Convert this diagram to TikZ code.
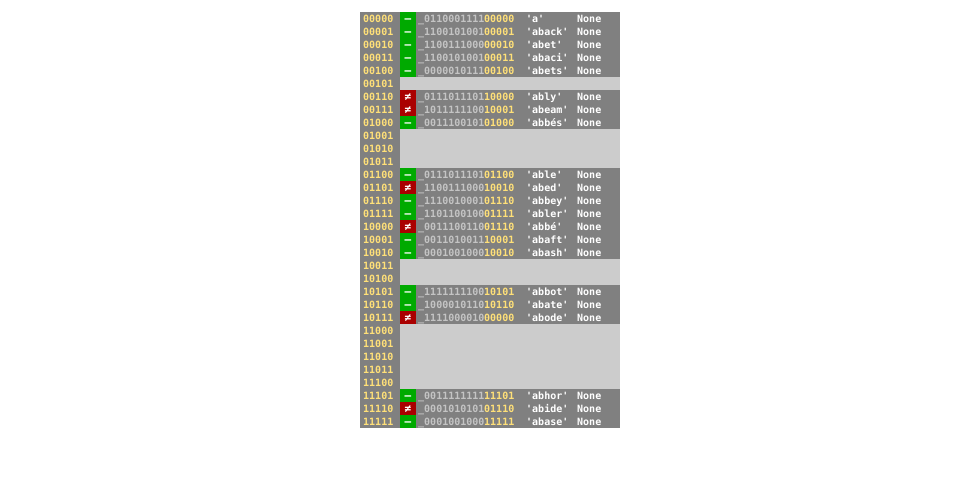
\documentclass[tikz,border=0pt]{standalone}
\usepackage{fontspec}
\newfontfamily\monob{DejaVu Sans Mono}
\definecolor{bgdark}{HTML}{808080}
\definecolor{bglight}{HTML}{CCCCCC}
\definecolor{okgreen}{HTML}{00AA00}
\definecolor{badred}{HTML}{AA0000}
\definecolor{gold}{HTML}{FFE078}
\definecolor{hashgray}{HTML}{C4C4C4}
\newcommand{\qq}{\char"27\relax}
\tikzset{
  txt/.style={anchor=base west, inner sep=0pt, font=\monob\bfseries\fontsize{10}{12}\selectfont},
  idxtxt/.style={txt, text=gold},
  hashtxt/.style={txt, text=hashgray},
  lowtxt/.style={txt, text=gold},
  wordtxt/.style={txt, text=white},
  symtxt/.style={anchor=base, inner sep=0pt, text=white, font=\monob\bfseries\fontsize{11}{12}\selectfont},
}
\begin{document}
\begin{tikzpicture}[x=1pt,y=-1pt]
\useasboundingbox[fill=white] (0,0) rectangle (960,480);
\fill[bgdark] (360,12) rectangle (620,428);
% empty rows
\foreach \i in {5,9,10,11,19,20,24,25,26,27,28}{
  \fill[bglight] (400,{12+13*\i}) rectangle (620,{25+13*\i});
}
% indices
\foreach \i/\b in {0/00000,1/00001,2/00010,3/00011,4/00100,5/00101,6/00110,7/00111,
  8/01000,9/01001,10/01010,11/01011,12/01100,13/01101,14/01110,15/01111,
  16/10000,17/10001,18/10010,19/10011,20/10100,21/10101,22/10110,23/10111,
  24/11000,25/11001,26/11010,27/11011,28/11100,29/11101,30/11110,31/11111}{
  \node[idxtxt] (idx\i) at (363,{22+13*\i}) {\b};
}
% filled rows
\foreach \i/\c/\s/\hg/\hy/\w in {
  0/okgreen/–/0110001111/00000/a,
  1/okgreen/–/1100101001/00001/aback,
  2/okgreen/–/1100111000/00010/abet,
  3/okgreen/–/1100101001/00011/abaci,
  4/okgreen/–/0000010111/00100/abets,
  6/badred/≠/0111011101/10000/ably,
  7/badred/≠/1011111100/10001/abeam,
  8/okgreen/–/0011100101/01000/abbés,
  12/okgreen/–/0111011101/01100/able,
  13/badred/≠/1100111000/10010/abed,
  14/okgreen/–/1110010001/01110/abbey,
  15/okgreen/–/1101100100/01111/abler,
  16/badred/≠/0011100110/01110/abbé,
  17/okgreen/–/0011010011/10001/abaft,
  18/okgreen/–/0001001000/10010/abash,
  21/okgreen/–/1111111100/10101/abbot,
  22/okgreen/–/1000010110/10110/abate,
  23/badred/≠/1111000010/00000/abode,
  29/okgreen/–/0011111111/11101/abhor,
  30/badred/≠/0001010101/01110/abide,
  31/okgreen/–/0001001000/11111/abase}{
  \fill[\c] (400,{12+13*\i}) rectangle (416,{25+13*\i});
  \node[symtxt] (sym\i) at (408,{22.5+13*\i}) {\s};
  \node[hashtxt] (hg\i) at (418,{22+13*\i}) {\_\hg};
  \node[lowtxt] (hy\i) at (484,{22+13*\i}) {\hy};
  \node[wordtxt] (w\i) at (526,{22+13*\i}) {\qq\w\qq};
  \node[wordtxt] (n\i) at (577,{22+13*\i}) {None};
}
\end{tikzpicture}
\end{document}
